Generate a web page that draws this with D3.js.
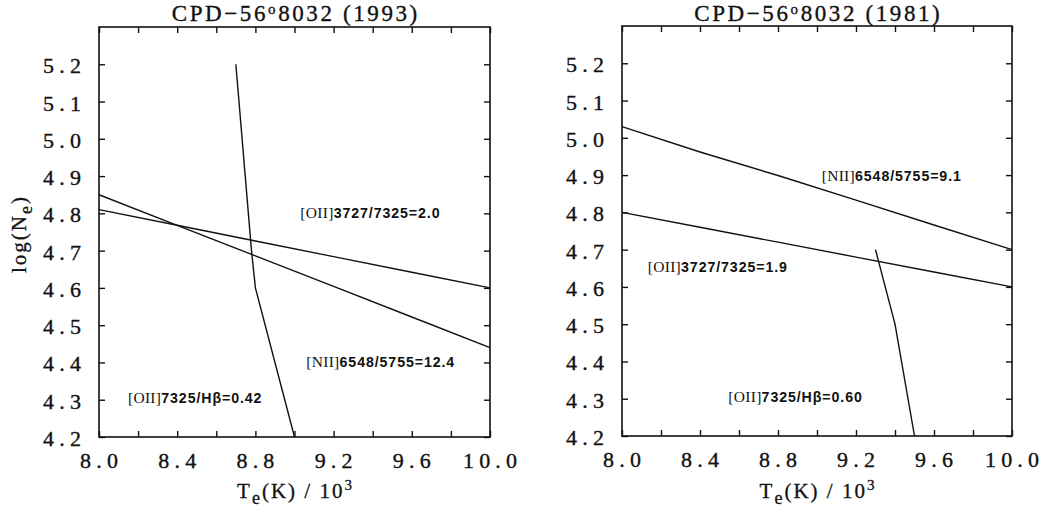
<!DOCTYPE html>
<html><head><meta charset="utf-8">
<script src="https://cdn.jsdelivr.net/npm/d3@7"></script>
<style>
body{margin:0;background:#fff;}
svg{display:block;}
.tick-label{font-family:"Liberation Serif",serif;font-size:22px;fill:#111;stroke:#111;stroke-width:0.35px;letter-spacing:5.2px;}
.title{font-family:"Liberation Serif",serif;font-size:23px;fill:#111;stroke:#111;stroke-width:0.35px;letter-spacing:2.6px;}
.axlab{font-family:"Liberation Serif",serif;font-size:21px;fill:#111;stroke:#111;stroke-width:0.3px;letter-spacing:2px;}
.ann{font-family:"Liberation Sans",sans-serif;font-weight:bold;font-size:14.2px;fill:#111;letter-spacing:0.9px;}
.ann .br{font-family:"Liberation Serif",serif;font-weight:normal;font-size:15.5px;letter-spacing:0.3px;}
</style></head>
<body>
<script>
// ---------- data ----------
const xMajorTicks = [8.0, 8.4, 8.8, 9.2, 9.6, 10.0];
const xMinorTicks = [8.0, 8.2, 8.4, 8.6, 8.8, 9.0, 9.2, 9.4, 9.6, 9.8, 10.0];
const yTicks = [4.2, 4.3, 4.4, 4.5, 4.6, 4.7, 4.8, 4.9, 5.0, 5.1, 5.2];
const titles = ["CPD\u221256|o|8032 (1993)", "CPD\u221256|o|8032 (1981)"];

const Tgrid = [8.0, 8.4, 8.8, 9.2, 9.6, 10.0];
// 1993 panel
const ne_OII3727_1993 = [4.81, 4.768, 4.726, 4.684, 4.642, 4.60];
const ne_NII_1993 = [4.85, 4.768, 4.686, 4.604, 4.522, 4.44];
const T_OIIHb_1993 = [8.70, 8.78, 8.80, 9.00];
const ne_OIIHb_1993 = [5.20, 4.70, 4.60, 4.20];
// 1981 panel
const ne_NII_1981 = [5.03, 4.962, 4.899, 4.833, 4.766, 4.70];
const ne_OII3727_1981 = [4.80, 4.76, 4.72, 4.68, 4.64, 4.60];
const T_OIIHb_1981 = [9.30, 9.40, 9.50];
const ne_OIIHb_1981 = [4.70, 4.50, 4.20];

// labels: [text, T, logNe]
const labels_1993 = [
  ["[OII]|3727/7325=2.0", 9.03, 4.788],
  ["[NII]|6548/5755=12.4", 9.06, 4.389],
  ["[OII]|7325/H\u03b2=0.42", 8.148, 4.291]
];
const labels_1981 = [
  ["[NII]|6548/5755=9.1", 9.024, 4.884],
  ["[OII]|3727/7325=1.9", 8.132, 4.639],
  ["[OII]|7325/H\u03b2=0.60", 8.545, 4.292]
];

const panels = [
  {x0: 99, x1: 490, yTop: 27, yBot: 437, title: titles[0], ylabel: true,
   curves: [[Tgrid, ne_OII3727_1993], [Tgrid, ne_NII_1993], [T_OIIHb_1993, ne_OIIHb_1993]],
   labels: labels_1993},
  {x0: 622, x1: 1012, yTop: 26, yBot: 436, title: titles[1], ylabel: false,
   curves: [[Tgrid, ne_NII_1981], [Tgrid, ne_OII3727_1981], [T_OIIHb_1981, ne_OIIHb_1981]],
   labels: labels_1981}
];

const svg = d3.select("body").append("svg").attr("width", 1043).attr("height", 512);
const LS = 5.2;

panels.forEach(p => {
  const x = d3.scaleLinear().domain([8.0, 10.0]).range([p.x0, p.x1]);
  const y = d3.scaleLinear().domain([4.2, 5.3]).range([p.yBot, p.yTop]);
  const g = svg.append("g");
  const tl = 6;

  const bx = g.append("g").attr("transform", `translate(0,${p.yBot})`)
    .call(d3.axisBottom(x).tickValues(xMinorTicks).tickSize(-tl).tickFormat(""));
  const tx = g.append("g").attr("transform", `translate(0,${p.yTop})`)
    .call(d3.axisTop(x).tickValues(xMinorTicks).tickSize(-tl).tickFormat(""));
  const ly = g.append("g").attr("transform", `translate(${p.x0},0)`)
    .call(d3.axisLeft(y).tickValues(yTicks).tickSize(-tl).tickFormat(""));
  const ry = g.append("g").attr("transform", `translate(${p.x1},0)`)
    .call(d3.axisRight(y).tickValues(yTicks).tickSize(-tl).tickFormat(""));
  [bx, tx, ly, ry].forEach(a => {
    a.select(".domain").remove();
    a.selectAll("line").attr("stroke", "#111").attr("stroke-width", 1.4);
  });
  g.append("rect").attr("x", p.x0).attr("y", p.yTop)
    .attr("width", p.x1 - p.x0).attr("height", p.yBot - p.yTop)
    .attr("fill", "none").attr("stroke", "#111").attr("stroke-width", 1.6);

  // tick labels
  g.selectAll(".xl").data(xMajorTicks).enter().append("text")
    .attr("class", "tick-label").attr("x", d => x(d) + LS / 2).attr("y", p.yBot + 31)
    .attr("text-anchor", "middle").text(d => d.toFixed(1));
  g.selectAll(".yl").data(yTicks).enter().append("text")
    .attr("class", "tick-label").attr("x", p.x0 - 18 + LS).attr("y", d => y(d) + 9)
    .attr("text-anchor", "end").text(d => d.toFixed(1));

  // title
  const parts = p.title.split("|");
  const tt = g.append("text").attr("x", (p.x0 + p.x1) / 2 + 1.3).attr("y", 21)
    .attr("text-anchor", "middle").attr("class", "title");
  tt.append("tspan").text(parts[0]);
  tt.append("tspan").attr("dy", -7).style("font-size", "15px").text(parts[1]);
  tt.append("tspan").attr("dy", 7).text(parts[2]);

  // x label
  const xl = g.append("text").attr("x", (p.x0 + p.x1) / 2 + 1).attr("y", 498)
    .attr("text-anchor", "middle").attr("class", "axlab");
  xl.append("tspan").text("T");
  xl.append("tspan").attr("dy", 6).style("font-size", "18px").text("e");
  xl.append("tspan").attr("dy", -6).text("(K)  /  10");
  xl.append("tspan").attr("dy", -8).style("font-size", "15px").text("3");

  if (p.ylabel) {
    const yl = g.append("text").attr("transform", `translate(26,${(p.yTop + p.yBot) / 2 + 2}) rotate(-90)`)
      .attr("text-anchor", "middle").attr("class", "axlab");
    yl.append("tspan").text("log(N");
    yl.append("tspan").attr("dy", 6).style("font-size", "18px").text("e");
    yl.append("tspan").attr("dy", -6).text(")");
  }

  // curves
  const line = d3.line().x(d => x(d[0])).y(d => y(d[1]));
  p.curves.forEach(c => {
    const pts = c[0].map((t, i) => [t, c[1][i]]);
    g.append("path").attr("d", line(pts)).attr("fill", "none")
      .attr("stroke", "#111").attr("stroke-width", 1.4);
  });

  // annotations
  p.labels.forEach(l => {
    const s = l[0].split("|");
    const t = g.append("text").attr("class", "ann").attr("x", x(l[1])).attr("y", y(l[2]));
    t.append("tspan").attr("class", "br").text(s[0]);
    t.append("tspan").text(s[1]);
  });
});
</script>
</body></html>
